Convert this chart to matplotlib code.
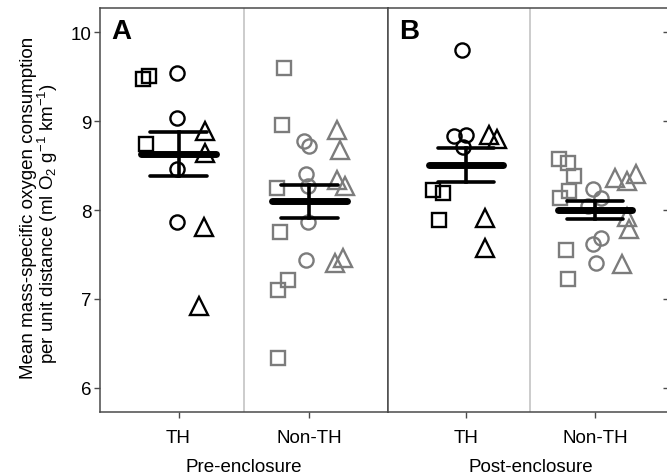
import matplotlib.pyplot as plt

plt.rcParams['font.family'] = ['Liberation Sans', 'DejaVu Sans']
plt.rcParams['mathtext.fontset'] = 'custom'
plt.rcParams['mathtext.rm'] = 'Liberation Sans'
plt.rcParams['mathtext.it'] = 'Liberation Sans:italic'

# --- data ---
groups = ['TH', 'Non-TH']
periods = ['Pre-enclosure', 'Post-enclosure']
panel_labels = ['A', 'B']

# pre-enclosure, TH (squares / circles / triangles)
pre_th_sq = [9.47, 9.51, 8.74]
pre_th_ci = [9.54, 9.03, 8.46, 7.87]
pre_th_tr = [8.89, 8.64, 7.81, 6.92]
# pre-enclosure, Non-TH
pre_non_sq = [9.60, 8.96, 8.25, 7.75, 7.21, 7.10, 6.34]
pre_non_ci = [8.77, 8.72, 8.41, 8.27, 7.87, 7.44]
pre_non_tr = [8.90, 8.67, 8.34, 8.27, 7.40, 7.46]
# post-enclosure, TH
post_th_sq = [8.22, 8.19, 7.89]
post_th_ci = [9.80, 8.83, 8.84, 8.71]
post_th_tr = [8.84, 8.80, 7.91, 7.57]
# post-enclosure, Non-TH
post_non_sq = [8.57, 8.53, 8.38, 8.21, 8.14, 7.55, 7.22]
post_non_ci = [8.24, 8.14, 7.62, 7.68, 7.41, 8.05]
post_non_tr = [8.36, 8.33, 8.41, 7.92, 7.79, 7.39]

# horizontal jitter of each point (offset from the group position)
pre_th_sq_j = [-0.275, -0.224, -0.249]
pre_th_ci_j = [-0.015, -0.010, -0.015, -0.015]
pre_th_tr_j = [0.204, 0.204, 0.194, 0.156]
pre_non_sq_j = [-0.193, -0.210, -0.251, -0.223, -0.164, -0.243, -0.241]
pre_non_ci_j = [-0.044, -0.006, -0.024, -0.011, -0.011, -0.027]
pre_non_tr_j = [0.212, 0.235, 0.208, 0.273, 0.193, 0.256]
post_th_sq_j = [-0.252, -0.175, -0.208]
post_th_ci_j = [-0.029, -0.093, 0.002, -0.021]
post_th_tr_j = [0.178, 0.242, 0.147, 0.151]
post_non_sq_j = [-0.278, -0.213, -0.162, -0.201, -0.273, -0.226, -0.208]
post_non_ci_j = [-0.020, 0.042, -0.020, 0.042, 0.003, -0.056]
post_non_tr_j = [0.152, 0.242, 0.314, 0.242, 0.262, 0.204]

# group means and standard errors
pre_mean = [8.63, 8.10]
pre_se = [0.245, 0.185]
post_mean = [8.51, 8.00]
post_se = [0.19, 0.10]

yticks = [6, 7, 8, 9, 10]

# --- figure ---
fig = plt.figure(figsize=(6.67, 4.77), dpi=100)
W, H = 667, 477
axA = fig.add_axes([100 / W, 64 / H, 288 / W, 404 / H])
axB = fig.add_axes([388 / W, 64 / H, 285 / W, 404 / H])

spine_col = '#4a4a4a'
colors = ['black', '#7c7c7c']
fs = 13.5

panels = [
    (axA, [(pre_th_sq, pre_th_sq_j), (pre_th_ci, pre_th_ci_j), (pre_th_tr, pre_th_tr_j)],
     [(pre_non_sq, pre_non_sq_j), (pre_non_ci, pre_non_ci_j), (pre_non_tr, pre_non_tr_j)],
     pre_mean, pre_se),
    (axB, [(post_th_sq, post_th_sq_j), (post_th_ci, post_th_ci_j), (post_th_tr, post_th_tr_j)],
     [(post_non_sq, post_non_sq_j), (post_non_ci, post_non_ci_j), (post_non_tr, post_non_tr_j)],
     post_mean, post_se),
]

markers = ['s', 'o', '^']
msizes = [9.8, 10.2, 13]

for i, (ax, th_sets, non_sets, means, ses) in enumerate(panels):
    ax.set_xlim(0.4, 2.6)
    ax.set_ylim(5.73, 10.27)
    ax.axvline(1.5, color='#c4c4c4', lw=1.2, zorder=1)

    for g, sets in enumerate([th_sets, non_sets]):
        xpos = g + 1
        for (vals, jit), mk, ms in zip(sets, markers, msizes):
            ax.plot([xpos + j for j in jit], vals, ls='none', marker=mk, ms=ms,
                    mfc='none', mec=colors[g], mew=1.7, zorder=2)
        # mean and SE bars
        m, s = means[g], ses[g]
        ax.plot([xpos - 0.285, xpos + 0.285], [m, m], color='black', lw=5,
                solid_capstyle='round', zorder=4)
        for yy in (m - s, m + s):
            ax.plot([xpos - 0.215, xpos + 0.215], [yy, yy], color='black', lw=2.6,
                    solid_capstyle='round', zorder=4)
        ax.plot([xpos, xpos], [m - s, m + s], color='black', lw=2.6, zorder=4)

    ax.set_xticks([1, 2])
    ax.set_xticklabels(groups, fontsize=fs)
    ax.set_yticks(yticks)
    for sp in ax.spines.values():
        sp.set_color(spine_col)
        sp.set_linewidth(1.1)
    ax.tick_params(axis='x', length=4, width=1, color=spine_col, pad=8)
    ax.text(0.04, 0.926, panel_labels[i], transform=ax.transAxes, fontsize=20,
            fontweight='bold', ha='left', va='baseline')
    ax.set_xlabel(periods[i], fontsize=fs, labelpad=9)

axA.tick_params(axis='y', length=4, width=1, color=spine_col, labelsize=fs, pad=2)
axB.tick_params(axis='y', left=False, labelleft=False, right=True, direction='in',
                length=7, width=1, color=spine_col)

fig.text(29 / W, 1 - 208 / H, 'Mean mass-specific oxygen consumption',
         rotation=90, ha='center', va='center', fontsize=fs)
fig.text(48 / W, 1 - 224 / H, r'per unit distance (ml O$_2$ g$^{-1}$ km$^{-1}$)',
         rotation=90, ha='center', va='center', fontsize=fs)

fig.savefig('out.png', dpi=100)
